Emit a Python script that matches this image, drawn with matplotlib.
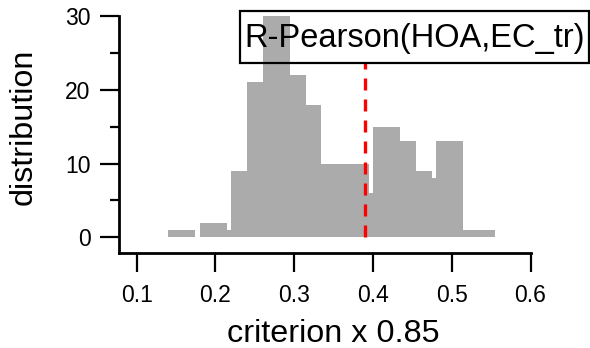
import numpy as np
import matplotlib
matplotlib.use('Agg')
from matplotlib import pyplot as plt
from matplotlib.patches import Rectangle

plt.rcParams['font.family'] = ['Liberation Sans', 'DejaVu Sans']

# histogram of the criterion (bins of 0.02, bars drawn wider than the step)
bin_left = np.round(np.arange(0.14, 0.54, 0.02), 3)
counts = [1, 0, 2, 1, 9, 21, 30, 22, 18, 10,
          10, 10, 6, 15, 13, 9, 8, 13, 1, 1]
bar_width = 0.0344

criterion = 0.39
line_top = 23.8
label = 'R-Pearson(HOA,EC_tr)'
xticks = [0.1, 0.2, 0.3, 0.4, 0.5, 0.6]
yticks = [0, 10, 20, 30]

W, H = 590, 348
fig = plt.figure(figsize=(W / 100, H / 100), dpi=100)
ax = fig.add_axes([0.2017, 0.2721, 0.6975, 0.6819])

ax.bar(bin_left, counts, width=bar_width, align='edge',
       color='#ababab', linewidth=0, zorder=2)
ax.plot([criterion, criterion], [0, line_top], color='#ff0000', lw=2.4,
        linestyle=(0, (3.6, 2.7)), zorder=3)

ax.set_xlim(0.0775, 0.6)
ax.set_ylim(-2.17, 30)

ax.spines['top'].set_visible(False)
ax.spines['right'].set_visible(False)
for s in ('left', 'bottom'):
    ax.spines[s].set_linewidth(2.0)
    ax.spines[s].set_capstyle('projecting')

ax.set_xticks(xticks)
ax.set_xticklabels(['%.1f' % v for v in xticks])
ax.set_yticks(yticks)
ax.set_yticks([5, 15, 25], minor=True)
ax.tick_params(axis='both', which='major', direction='out', length=13.5,
               width=1.6, labelsize=16.5)
ax.tick_params(axis='x', which='major', pad=8.4)
ax.tick_params(axis='y', which='major', pad=7)
ax.tick_params(axis='y', which='minor', direction='out', length=6.5, width=1.6)

ax.set_xlabel('criterion x 0.85', fontsize=23.3)
ax.set_ylabel('distribution', fontsize=23.3)
ax.xaxis.set_label_coords(0.521, -0.277)
ax.yaxis.set_label_coords(-0.195, 0.534)

# annotation box, no fill (bars show through)
box = Rectangle((240 / W, 1 - 63 / H), 349 / W, 52 / H, transform=fig.transFigure,
                fill=False, ec='black', lw=1.6, zorder=5)
fig.patches.append(box)
fig.text(414.5 / W, 1 - 38 / H, label, fontsize=23.5, ha='center',
         va='center', zorder=6)

fig.savefig('out.png', dpi=100)
